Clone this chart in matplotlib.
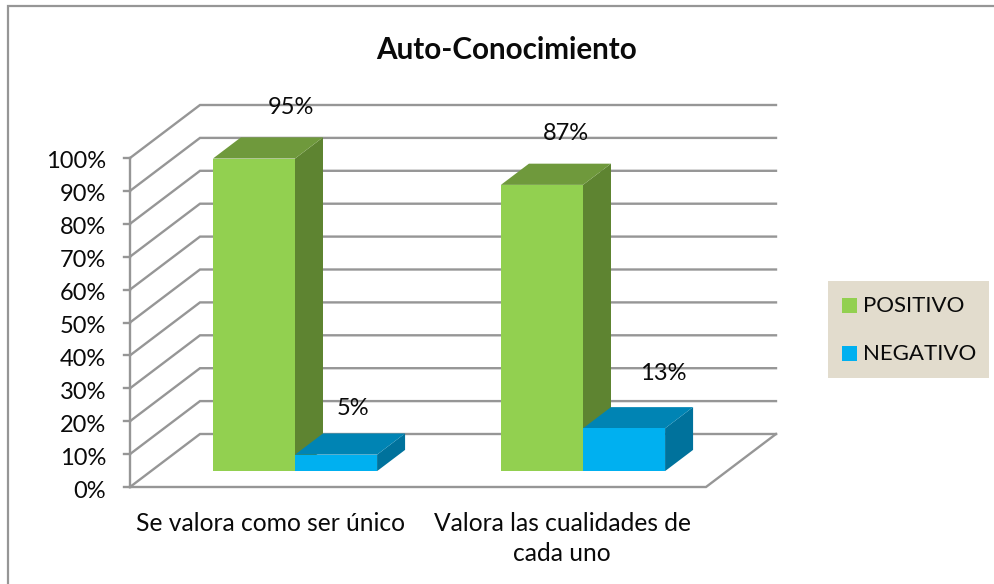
import matplotlib
matplotlib.use('Agg')
import matplotlib.pyplot as plt
from matplotlib.patches import Polygon, Rectangle

# --- dati ---
categorie = ['Se valora como ser único', 'Valora las cualidades de\ncada uno']
positivo = [95, 87]
negativo = [5, 13]
etichette_y = ['0%', '10%', '20%', '30%', '40%', '50%', '60%', '70%', '80%', '90%', '100%']
valori_y = [0, 10, 20, 30, 40, 50, 60, 70, 80, 90, 100]
nomi_serie = ['POSITIVO', 'NEGATIVO']

VERDE = '#92d050'
VERDE_TOP = '#6f993c'
VERDE_LATO = '#5e8431'
BLU = '#00b0f0'
BLU_TOP = '#0084b4'
BLU_LATO = '#00729c'
GRIGIO = '#969696'
TESTO = '#0a0a0a'
FONT = 'Lato'
FS = 17.0
FS_CAT = 17.7
FS_LEG = 16.0

W, H = 995, 584
plt.rcParams['font.family'] = FONT
fig = plt.figure(figsize=(W / 100, H / 100), dpi=100)

# bordo esterno: sopra e a sinistra, gli altri lati sono fuori immagine
fig.add_artist(plt.Line2D([8 / W, 8 / W, 1], [0, 1 - 6 / H, 1 - 6 / H], transform=fig.transFigure,
                          color=GRIGIO, lw=1.6, solid_joinstyle='miter', zorder=0))

# assi: x in categorie (288 px l'una), y in percentuale (3.29 px per punto)
PX_CAT = 288.0
PX_Y = 3.29
ax = fig.add_axes([130 / W, 1 - 487 / H, 646 / W, 382 / H])
ax.set_xlim(0, 646 / PX_CAT)
ax.set_ylim(0, 382 / PX_Y)
ax.axis('off')

# proiezione obliqua: profondita' 0 (davanti) -> 1 (parete di fondo)
DX = 70 / PX_CAT
DY = 53 / PX_Y


def proj(x, y, d):
    return x + DX * d, y + DY * d


# griglia: parete laterale e parete di fondo
for v, lab in zip(valori_y, etichette_y):
    p0 = proj(0, v, 0)
    p1 = proj(0, v, 1)
    p2 = proj(len(categorie), v, 1)
    ax.plot([p0[0], p1[0], p2[0]], [p0[1], p1[1], p2[1]], color=GRIGIO, lw=1.7,
            solid_joinstyle='miter', clip_on=False, zorder=1)
    # tacche
    ax.plot([-6 / PX_CAT, 0], [v, v], color=GRIGIO, lw=1.7, clip_on=False, zorder=1)
    ax.text(-24 / PX_CAT, v - 2 / PX_Y, lab, ha='right', va='center_baseline', fontsize=FS, color=TESTO)

# pavimento e asse verticale
ax.plot([0, len(categorie), proj(len(categorie), 0, 1)[0]], [0, 0, DY], color=GRIGIO, lw=1.7,
        solid_joinstyle='miter', clip_on=False, zorder=1)
ax.plot([0, 0], [0, 100], color=GRIGIO, lw=1.7, clip_on=False, zorder=1)

LARG = 0.285
OFF = 0.215
D0 = 0.30
D1 = 0.70
# scarto delle etichette rispetto al centro del bordo alto della barra (pixel)
OFFSET_POS = [(37, 51), (24, 51)]
OFFSET_NEG = [(17, 46), (39, 55)]
# scarto orizzontale delle etichette di categoria (pixel)
OFFSET_CAT = [-4, 0]


def barra(x0, val, front, top, lato, z):
    x1 = x0 + LARG
    # lato destro
    ax.add_patch(Polygon([proj(x1, 0, D0), proj(x1, 0, D1), proj(x1, val, D1), proj(x1, val, D0)],
                         fc=lato, ec='none', zorder=z))
    # sopra
    ax.add_patch(Polygon([proj(x0, val, D0), proj(x1, val, D0), proj(x1, val, D1), proj(x0, val, D1)],
                         fc=top, ec='none', zorder=z))
    # fronte
    ax.add_patch(Polygon([proj(x0, 0, D0), proj(x1, 0, D0), proj(x1, val, D0), proj(x0, val, D0)],
                         fc=front, ec='none', zorder=z + 0.1))


def etichetta(x0, val, off):
    # offset points: 1 px = 0.72 pt a dpi 100
    ax.annotate(f'{val}%', proj(x0 + LARG / 2, val, D0), xytext=(off[0] * 0.72, off[1] * 0.72),
                textcoords='offset points', ha='center', va='center', fontsize=FS, color=TESTO,
                zorder=6, annotation_clip=False)


for i in range(len(categorie)):
    x_pos = i + OFF
    x_neg = x_pos + LARG
    barra(x_pos, positivo[i], VERDE, VERDE_TOP, VERDE_LATO, 3)
    barra(x_neg, negativo[i], BLU, BLU_TOP, BLU_LATO, 4)
    etichetta(x_pos, positivo[i], OFFSET_POS[i])
    etichetta(x_neg, negativo[i], OFFSET_NEG[i])
    # etichette categorie
    ax.text(i + 0.5 + OFFSET_CAT[i] / PX_CAT, -7.5, categorie[i], ha='center', va='top', fontsize=FS_CAT,
            color=TESTO, linespacing=1.4, clip_on=False)

# titolo
fig.text(507 / W, 1 - 50 / H, 'Auto-Conocimiento', ha='center', va='center', fontsize=21.3, fontweight='bold',
         color=TESTO)

# legenda
fig.add_artist(Rectangle((828 / W, 1 - 378 / H), 161 / W, 97 / H, transform=fig.transFigure,
                         fc='#e2dccd', ec='none'))
for nome, col, yc in zip(nomi_serie, [VERDE, BLU], [305, 353]):
    fig.add_artist(Rectangle((842 / W, 1 - (yc + 7.5) / H), 15 / W, 15 / H, transform=fig.transFigure,
                             fc=col, ec='none'))
    fig.text(863 / W, 1 - (yc + 1.5) / H, nome, ha='left', va='center', fontsize=FS_LEG, color=TESTO)

plt.savefig('out.png', dpi=100)
